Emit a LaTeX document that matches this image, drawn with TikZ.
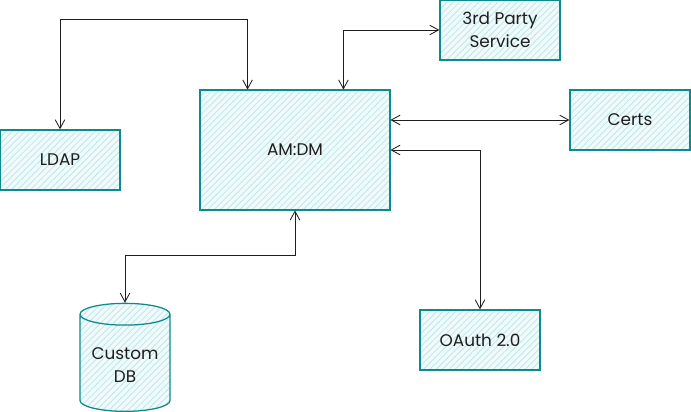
\documentclass[tikz,border=0pt]{standalone}
\usepackage{fontspec}
\setmainfont{Poppins}
\usetikzlibrary{arrows.meta,positioning,shapes.geometric,patterns.meta}
\definecolor{ink}{HTML}{1E1E1E}
\definecolor{tealstroke}{HTML}{0E8A8C}
\definecolor{tealfill}{HTML}{F1FAFB}
\definecolor{hatch}{HTML}{BFE8EC}

\begin{document}
\begin{tikzpicture}[
  font=\fontsize{12}{16}\selectfont,
  >={Straight Barb[length=2.2mm,width=2.4mm]},
  box/.style={draw=tealstroke, line width=0.9pt, align=center, inner sep=2pt,
    preaction={fill=tealfill},
    pattern={Lines[angle=45,distance=3.2pt,line width=0.6pt]}, pattern color=hatch,
    text=ink},
  service/.style={box, minimum width=3.0cm, minimum height=1.5cm},
  store/.style={box, cylinder, shape border rotate=90, aspect=0.3,
    minimum width=2.25cm, minimum height=2.7cm},
  link/.style={<->, draw=ink, line width=0.6pt}
]
\useasboundingbox (0,0) rectangle (17.275,10.275);

% nodes
\node[box, minimum width=4.75cm, minimum height=3.0cm] (amdm) at (7.375,6.525) {AM:DM};
\node[service] (ldap) at (1.5,6.275) {LDAP};
\node[service] (third) at (12.5,9.525) {3rd Party\\Service};
\node[service] (certs) at (15.75,7.275) {Certs};
\node[service] (oauth) at (12.0,1.775) {OAuth 2.0};
\node[store] (customdb) at (3.125,1.15) {Custom\\DB};

% connectors
\draw[link] (ldap.north) -- ++(0,2.75) -| ([xshift=1.2cm]amdm.north west);
\draw[link] ([xshift=-1.175cm]amdm.north east) |- (third.west);
\draw[link] (certs.west -| amdm.east) -- (certs.west);
\draw[link] (amdm.east) -| (oauth.north);
\draw[link] (amdm.south) -- ++(0,-1.125) -| (customdb.north);
\end{tikzpicture}
\end{document}
